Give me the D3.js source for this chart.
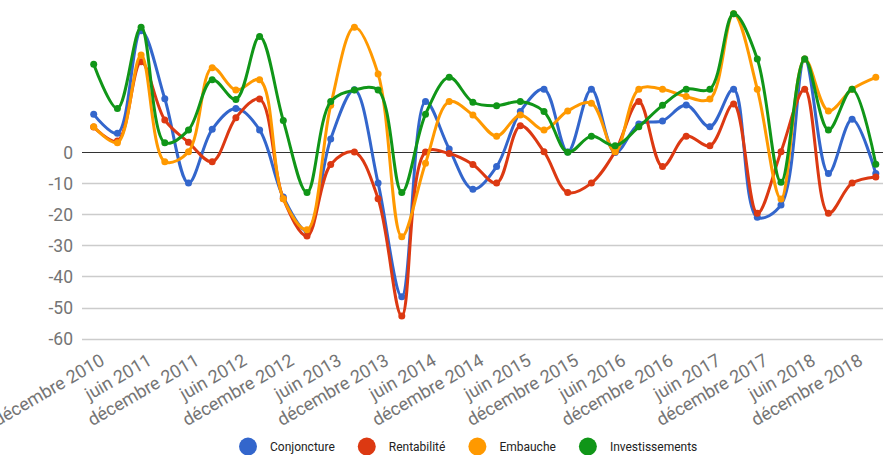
<!DOCTYPE html>
<html>
<head>
<meta charset="utf-8">
<script src="https://cdnjs.cloudflare.com/ajax/libs/d3/7.8.5/d3.min.js"></script>
<style>
  html, body { margin: 0; padding: 0; background: #fff; }
  svg { display: block; font-family: Roboto, "Noto Sans", Arial, sans-serif; }
</style>
</head>
<body>
<svg id="chart" width="883" height="455"></svg>
<script>
// ---- Data ----
const quarters = [
  "décembre 2010","mars 2011","juin 2011","septembre 2011","décembre 2011",
  "mars 2012","juin 2012","septembre 2012","décembre 2012",
  "mars 2013","juin 2013","septembre 2013","décembre 2013",
  "mars 2014","juin 2014","septembre 2014","décembre 2014",
  "mars 2015","juin 2015","septembre 2015","décembre 2015",
  "mars 2016","juin 2016","septembre 2016","décembre 2016",
  "mars 2017","juin 2017","septembre 2017","décembre 2017",
  "mars 2018","juin 2018","septembre 2018","décembre 2018","mars 2019"
];
const tickLabels = [
  "décembre 2010","juin 2011","décembre 2011","juin 2012","décembre 2012",
  "juin 2013","décembre 2013","juin 2014","décembre 2014","juin 2015",
  "décembre 2015","juin 2016","décembre 2016","juin 2017","décembre 2017",
  "juin 2018","décembre 2018"
];
const yTicks = [0, -10, -20, -30, -40, -50, -60];
const seriesNames = ["Conjoncture", "Rentabilité", "Embauche", "Investissements"];
const seriesColors = ["#3366cc", "#dc3912", "#ff9900", "#109618"];

const conjoncture = [12.1, 6.0, 39, 17.1, -10, 7.3, 14.0, 7.1, -14.5, -25.3,
  4.2, 20, -10, -46.5, 16.2, 1, -12, -4.7, 13, 20.2,
  0, 20.2, -0.2, 9.0, 10, 15.1, 8.1, 20.2, -21, -17,
  29.9, -6.9, 10.5, -6.9];
const rentabilite = [8, 3.5, 29, 10.3, 3.1, -3.1, 11, 17, -15, -27,
  -4, 0, -15, -52.7, 0, -0.5, -4, -10, 8.4, 0.1,
  -13, -10, 0.1, 16.2, -4.7, 5.1, 2.0, 15.4, -19.7, 0.1,
  20.2, -19.7, -10, -8];
const embauche = [8.1, 3.0, 31.2, -3.1, 0.1, 27.1, 19.9, 23.2, -15, -25,
  15, 40.1, 25.1, -27.2, -3.6, 16.2, 11.9, 5.1, 11.9, 7.1,
  13.2, 15.7, 0.1, 20.2, 20.2, 17.8, 17.0, 44.4, 20.2, -15.1,
  29.9, 13.2, 20.2, 24.0];
const investissements = [28.2, 14.0, 40.1, 3.0, 7.1, 23.2, 16.9, 37.1, 10.1, -13,
  16.2, 19.9, 19.9, -13, 12.1, 24.0, 16.0, 14.9, 16.2, 13.0,
  -0.1, 5.1, 2.0, 8.1, 15, 20.2, 20.2, 44.4, 29.9, -9.7,
  29.9, 7.1, 20.2, -3.9];

const allSeries = [conjoncture, rentabilite, embauche, investissements];

// ---- Layout ----
const svg = d3.select("#chart");
const plotLeft = 82, plotRight = 883;

const x = d3.scalePoint().domain(quarters).range([93.7, 875.8]);
const y = d3.scaleLinear().domain([-60, 0]).range([338.7, 152]);

// gridlines
const grid = svg.append("g");
grid.selectAll("line").data(yTicks).join("line")
  .attr("x1", plotLeft).attr("x2", plotRight)
  .attr("y1", d => Math.round(y(d)) + 0.5).attr("y2", d => Math.round(y(d)) + 0.5)
  .attr("stroke", d => d === 0 ? "#333333" : "#cccccc")
  .attr("stroke-width", d => d === 0 ? 1.2 : 1.5);

// y axis labels
const yAxis = d3.axisLeft(y).tickValues(yTicks).tickSize(0).tickPadding(0)
  .tickFormat(d => d === 0 ? "0" : "-" + Math.abs(d));
const yG = svg.append("g").attr("transform", "translate(73,0)").call(yAxis);
yG.select(".domain").remove();
yG.selectAll("text").attr("fill", "#757575").attr("font-size", 17.5)
  .attr("font-family", "Roboto, sans-serif").attr("dy", "0.35em");

// x axis labels (rotated)
const xG = svg.append("g");
xG.selectAll("text").data(tickLabels).join("text")
  .attr("transform", d => `translate(${x(d) + 12},364) rotate(-30)`)
  .attr("text-anchor", "end")
  .attr("fill", "#757575")
  .attr("font-size", 18)
  .text(d => d);

// lines
const line = d3.line()
  .x((d, i) => x(quarters[i]))
  .y(d => y(d))
  .curve(d3.curveCatmullRom.alpha(0.5));

allSeries.forEach((vals, k) => {
  const g = svg.append("g");
  g.append("path").datum(vals)
    .attr("d", line)
    .attr("fill", "none")
    .attr("stroke", seriesColors[k])
    .attr("stroke-width", 3)
    .attr("stroke-linejoin", "round");
  g.selectAll("circle").data(vals).join("circle")
    .attr("cx", (d, i) => x(quarters[i]))
    .attr("cy", d => y(d))
    .attr("r", 3.5)
    .attr("fill", seriesColors[k]);
});

// legend
const legend = svg.append("g").attr("font-size", 12).attr("fill", "#222222");
let lx = 248;
seriesNames.forEach((name, k) => {
  legend.append("circle").attr("cx", lx).attr("cy", 446.5).attr("r", 9)
    .attr("fill", seriesColors[k]);
  const t = legend.append("text").attr("x", lx + 22).attr("y", 446.5)
    .attr("dy", "0.35em").text(name);
  const w = t.node().getComputedTextLength();
  lx = lx + 22 + w + 32;
});
</script>
</body>
</html>
